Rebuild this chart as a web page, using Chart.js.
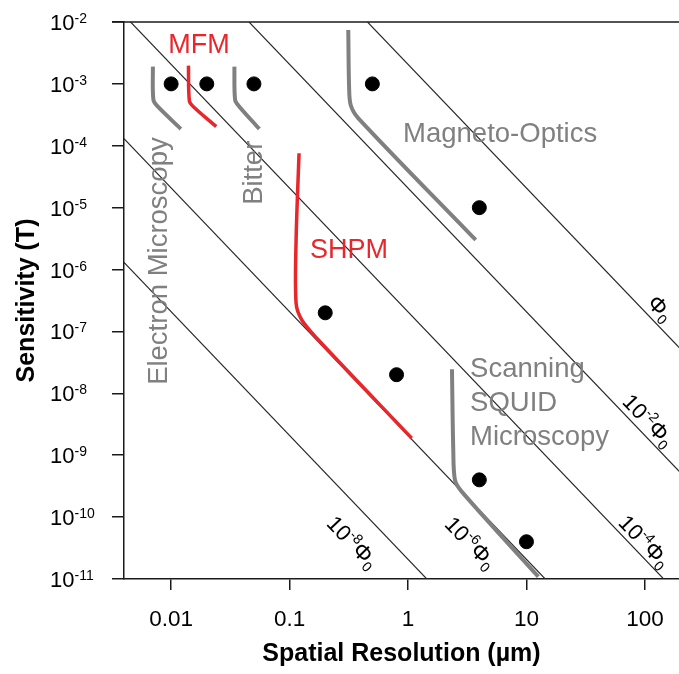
<!DOCTYPE html>
<html>
<head>
<meta charset="utf-8">
<script src="https://cdn.jsdelivr.net/npm/chart.js@4.4.0/dist/chart.umd.min.js"></script>
<style>
	body { margin: 0; background: #fff; }
	#wrap { width: 679px; height: 674px; }
</style>
</head>
<body>
<div id="wrap"><canvas id="fieldChart" width="679" height="674"></canvas></div>
<script>
"use strict";

// Tick values and their labels
const xTicks = [0.01, 0.1, 1, 10, 100];
const xTickLabels = ["0.01", "0.1", "1", "10", "100"];
const yTicks = [1e-2, 1e-3, 1e-4, 1e-5, 1e-6, 1e-7, 1e-8, 1e-9, 1e-10, 1e-11];
const yTickExponents = ["-2", "-3", "-4", "-5", "-6", "-7", "-8", "-9", "-10", "-11"];

// Black dots: spatial resolution (µm) and sensitivity (T)
const dotX = [0.01, 0.02, 0.05, 0.5, 4, 0.2, 0.8, 4, 10];
const dotY = [1e-3, 1e-3, 1e-3, 1e-3, 1e-5, 2e-7, 2e-8, 4e-10, 4e-11];

// Technique curves
const electronX = [0.00701, 0.00709, 0.00777, 0.01208];
const electronY = [1.90e-3, 5.50e-4, 4.24e-4, 1.87e-4];
const mfmX = [0.0140, 0.01426, 0.01542, 0.0240];
const mfmY = [1.97e-3, 5.30e-4, 4.28e-4, 2.04e-4];
const bitterX = [0.0342, 0.0347, 0.0377, 0.0556];
const bitterY = [1.90e-3, 5.50e-4, 4.28e-4, 1.87e-4];
const shpmX = [0.1202, 0.1135, 0.1135, 0.1268, 0.1698, 1.075];
const shpmY = [7.57e-5, 3.01e-6, 2.86e-7, 1.53e-7, 7.76e-8, 1.88e-9];
const magnetoX = [0.313, 0.318, 0.328, 0.381, 3.73];
const magnetoY = [7.43e-3, 9.0e-4, 4.56e-4, 2.78e-4, 3.01e-6];
const squidX = [2.35, 2.41, 2.49, 2.84, 12.6];
const squidY = [2.45e-8, 1.22e-9, 3.99e-10, 2.58e-10, 1.09e-11];

// Flux lines (multiples of the flux quantum), end points
const fluxExponents = ["", "-2", "-4", "-6", "-8"];
const fluxStartX = [0.455, 0.0455, 0.00455, 0.004, 0.004];
const fluxStartY = [1e-2, 1e-2, 1e-2, 1.3e-4, 1.3e-6];
const fluxEndX = [200, 200, 144, 14.4, 1.44];
const fluxEndY = [5.2e-8, 5.2e-10, 1e-11, 1e-11, 1e-11];
const fluxLabelX = [136, 108, 100, 3.4, 0.343];
const fluxLabelY = [2.4e-7, 3.7e-9, 4.1e-11, 3.9e-11, 3.98e-11];

const FONT = '"Liberation Sans", Arial, Helvetica, sans-serif';
const RED = "#e8262b";
const GREY = "#808080";
const INK = "#1a1a1a";

function toPoints(xs, ys) {
	return xs.map(function (x, i) {
		return { x: x, y: ys[i] };
	});
}

function curve(xs, ys, color) {
	return {
		type: "line",
		data: toPoints(xs, ys),
		borderColor: color,
		borderWidth: color === RED ? 3.5 : 4,
		pointRadius: 0,
		tension: 0.3,
		fill: false,
	};
}

// Draws text made of pieces with their own font and vertical shift
function drawRich(ctx, parts, x, y, align) {
	let width = 0;
	parts.forEach(function (p) {
		ctx.font = p.font;
		p.w = ctx.measureText(p.text).width;
		width += p.w;
	});
	let cx = x;
	if (align === "center") cx = x - width / 2;
	if (align === "right") cx = x - width;
	ctx.textAlign = "left";
	parts.forEach(function (p) {
		ctx.font = p.font;
		ctx.fillText(p.text, cx, y + (p.dy || 0));
		cx += p.w;
	});
}

const annotations = {
	id: "annotations",
	afterDraw(chart) {
		const ctx = chart.ctx;
		const area = chart.chartArea;
		const xs = chart.scales.x;
		const ys = chart.scales.y;
		ctx.save();

		// top frame line
		ctx.strokeStyle = INK;
		ctx.lineWidth = 1.5;
		ctx.beginPath();
		ctx.moveTo(area.left - 12, area.top);
		ctx.lineTo(area.right, area.top);
		ctx.stroke();

		ctx.fillStyle = "#000";
		ctx.textBaseline = "alphabetic";

		// y tick labels
		yTicks.forEach(function (v, i) {
			const py = ys.getPixelForValue(v);
			drawRich(ctx, [
				{ text: "10", font: "22px " + FONT },
				{ text: yTickExponents[i], font: "14px " + FONT, dy: -7 },
			], 50, py + 8, "left");
		});

		// x tick labels
		ctx.font = "22.5px " + FONT;
		ctx.textAlign = "center";
		xTicks.forEach(function (v, i) {
			ctx.fillText(xTickLabels[i], xs.getPixelForValue(v), 626);
		});

		// axis titles
		ctx.font = "bold 25px " + FONT;
		ctx.textAlign = "center";
		ctx.fillText("Spatial Resolution (µm)", (area.left + area.right) / 2, 661);
		ctx.save();
		ctx.translate(34, (area.top + area.bottom) / 2);
		ctx.rotate(-Math.PI / 2);
		ctx.fillText("Sensitivity (T)", 0, 0);
		ctx.restore();

		// flux line labels, turned along their lines
		fluxExponents.forEach(function (exp, i) {
			const x1 = xs.getPixelForValue(fluxStartX[i]);
			const y1 = ys.getPixelForValue(fluxStartY[i]);
			const x2 = xs.getPixelForValue(fluxEndX[i]);
			const y2 = ys.getPixelForValue(fluxEndY[i]);
			const angle = Math.atan2(y2 - y1, x2 - x1);
			const parts = [];
			if (exp) {
				parts.push({ text: "10", font: "22px " + FONT });
				parts.push({ text: exp, font: "14px " + FONT, dy: -9 });
			}
			parts.push({ text: "Φ", font: "23px " + FONT });
			parts.push({ text: "0", font: "14px " + FONT, dy: 4 });
			ctx.save();
			ctx.translate(xs.getPixelForValue(fluxLabelX[i]), ys.getPixelForValue(fluxLabelY[i]));
			ctx.rotate(angle);
			drawRich(ctx, parts, 0, 8, "center");
			ctx.restore();
		});

		// technique names
		ctx.font = "27px " + FONT;
		ctx.textAlign = "left";
		ctx.fillStyle = RED;
		ctx.fillText("MFM", xs.getPixelForValue(0.00944), ys.getPixelForValue(3.16e-3));
		ctx.fillText("SHPM", xs.getPixelForValue(0.149), ys.getPixelForValue(1.54e-6));
		ctx.font = "27.5px " + FONT;
		ctx.fillStyle = GREY;
		ctx.fillText("Magneto-Optics", xs.getPixelForValue(0.908), ys.getPixelForValue(1.15e-4));
		const sx = xs.getPixelForValue(3.34);
		const sy = ys.getPixelForValue(1.84e-8);
		["Scanning", "SQUID", "Microscopy"].forEach(function (line, i) {
			ctx.fillText(line, sx, sy + i * 34);
		});
		ctx.save();
		ctx.translate(xs.getPixelForValue(0.00925), ys.getPixelForValue(1.37e-8));
		ctx.rotate(-Math.PI / 2);
		ctx.fillText("Electron Microscopy", 0, 0);
		ctx.restore();
		ctx.save();
		ctx.translate(xs.getPixelForValue(0.0586), ys.getPixelForValue(1.11e-5));
		ctx.rotate(-Math.PI / 2);
		ctx.fillText("Bitter", 0, 0);
		ctx.restore();

		ctx.restore();
	},
};

const datasets = [
	{
		type: "scatter",
		data: toPoints(dotX, dotY),
		backgroundColor: "#000",
		borderColor: "#000",
		pointRadius: 7,
		showLine: false,
	},
	curve(electronX, electronY, GREY),
	curve(mfmX, mfmY, RED),
	curve(bitterX, bitterY, GREY),
	curve(shpmX, shpmY, RED),
	curve(magnetoX, magnetoY, GREY),
	curve(squidX, squidY, GREY),
];

fluxExponents.forEach(function (exp, i) {
	datasets.push({
		type: "line",
		data: [
			{ x: fluxStartX[i], y: fluxStartY[i] },
			{ x: fluxEndX[i], y: fluxEndY[i] },
		],
		borderColor: "#262626",
		borderWidth: 1.1,
		pointRadius: 0,
		fill: false,
	});
});

new Chart(document.getElementById("fieldChart"), {
	data: { datasets: datasets },
	options: {
		responsive: false,
		animation: false,
		events: [],
		layout: { autoPadding: false, padding: { left: 112, top: 22, right: 0, bottom: 84 } },
		plugins: {
			legend: { display: false },
			tooltip: { enabled: false },
		},
		scales: {
			x: {
				type: "logarithmic",
				min: 0.004,
				max: 194,
				afterBuildTicks: function (axis) {
					axis.ticks = xTicks.map(function (v) { return { value: v }; });
				},
				ticks: { display: false },
				grid: { drawOnChartArea: false, tickLength: 11, color: INK, lineWidth: 1.5 },
				border: { color: INK, width: 1.5 },
			},
			y: {
				type: "logarithmic",
				min: 1e-11,
				max: 1e-2,
				afterBuildTicks: function (axis) {
					axis.ticks = yTicks.map(function (v) { return { value: v }; });
				},
				ticks: { display: false },
				grid: { drawOnChartArea: false, tickLength: 12, color: INK, lineWidth: 1.5 },
				border: { color: INK, width: 1.5 },
			},
		},
	},
	plugins: [annotations],
});
</script>
</body>
</html>
